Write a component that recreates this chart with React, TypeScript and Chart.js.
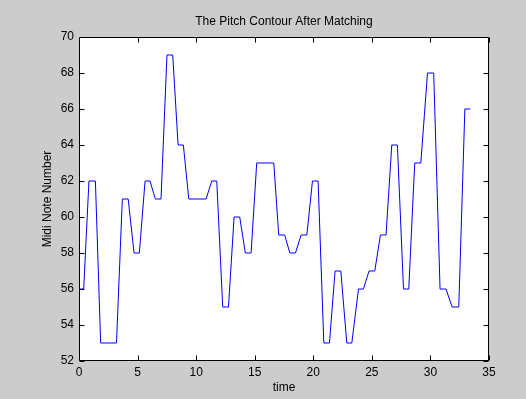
import React, { useEffect, useRef } from "react";
import { Chart, registerables } from "chart.js";

Chart.register(...registerables);

const titleText = "The Pitch Contour After Matching";
const xTitle = "time";
const yTitle = "Midi Note Number";

const timeValues = [0, 0.4, 0.85, 1.4, 1.85, 3.2, 3.7, 4.2, 4.7, 5.15, 5.64, 6.06, 6.52, 7.0, 7.51, 8.0, 8.46, 8.91, 9.37, 10.85, 11.33, 11.76, 12.27, 12.76, 13.24, 13.72, 14.2, 14.69, 15.17, 16.63, 17.05, 17.56, 18.0, 18.48, 18.96, 19.45, 19.93, 20.41, 20.9, 21.38, 21.86, 22.35, 22.86, 23.29, 23.86, 24.28, 24.76, 25.25, 25.73, 26.21, 26.7, 27.18, 27.7, 28.15, 28.66, 29.18, 29.75, 30.28, 30.82, 31.33, 31.85, 32.42, 32.94, 33.4];
const noteValues = [56, 56, 62, 62, 53, 53, 61, 61, 58, 58, 62, 62, 61, 61, 69, 69, 64, 64, 61, 61, 62, 62, 55, 55, 60, 60, 58, 58, 63, 63, 59, 59, 58, 58, 59, 59, 62, 62, 53, 53, 57, 57, 53, 53, 56, 56, 57, 57, 59, 59, 64, 64, 56, 56, 63, 63, 68, 68, 56, 56, 55, 55, 66, 66];

const xTicks = [0, 5, 10, 15, 20, 25, 30, 35];
const yTicks = [52, 54, 56, 58, 60, 62, 64, 66, 68, 70];

const FONT = "'Liberation Sans', Arial, sans-serif";

const boxPlugin = {
  id: "matlabBox",
  beforeDraw(chart: any) {
    const { ctx, chartArea } = chart;
    ctx.save();
    ctx.fillStyle = "#cccccc";
    ctx.fillRect(0, 0, chart.width, chart.height);
    ctx.fillStyle = "#ffffff";
    ctx.fillRect(chartArea.left, chartArea.top, chartArea.right - chartArea.left, chartArea.bottom - chartArea.top);
    ctx.restore();
  },
  afterDraw(chart: any) {
    const { ctx, chartArea } = chart;
    const xs = chart.scales.x;
    const ys = chart.scales.y;
    const L = Math.round(chartArea.left) + 0.5;
    const R = Math.round(chartArea.right) - 0.5;
    const T = Math.round(chartArea.top) + 0.5;
    const B = Math.round(chartArea.bottom) - 0.5;
    const tl = 5;
    ctx.save();
    ctx.strokeStyle = "#000000";
    ctx.lineWidth = 1;
    ctx.beginPath();
    ctx.rect(L, T, R - L, B - T);
    for (const v of xTicks) {
      const px = Math.round(xs.getPixelForValue(v)) + 0.5;
      ctx.moveTo(px, B);
      ctx.lineTo(px, B - tl);
      ctx.moveTo(px, T);
      ctx.lineTo(px, T + tl);
    }
    for (const v of yTicks) {
      const py = Math.round(ys.getPixelForValue(v)) + 0.5;
      ctx.moveTo(L, py);
      ctx.lineTo(L + tl, py);
      ctx.moveTo(R, py);
      ctx.lineTo(R - tl, py);
    }
    ctx.stroke();
    ctx.fillStyle = "#000000";
    ctx.font = `12px ${FONT}`;
    ctx.textAlign = "center";
    ctx.textBaseline = "middle";
    ctx.fillText(titleText, (chartArea.left + chartArea.right) / 2, 22);
    ctx.restore();
  },
};

export default function App() {
  const canvasRef = useRef<HTMLCanvasElement | null>(null);

  useEffect(() => {
    document.body.style.margin = "0";
    const canvas = canvasRef.current;
    if (!canvas) return;
    const chart = new Chart(canvas, {
      type: "scatter",
      data: {
        datasets: [
          {
            data: timeValues.map((t, i) => ({ x: t, y: noteValues[i] })),
            showLine: true,
            borderColor: "#0000ff",
            borderWidth: 1,
            pointRadius: 0,
            fill: false,
            tension: 0,
          },
        ],
      },
      options: {
        responsive: false,
        animation: false,
        devicePixelRatio: 1,
        layout: { padding: { left: 34, right: 37, top: 37, bottom: 0 } },
        plugins: {
          legend: { display: false },
          tooltip: { enabled: false },
          title: { display: false },
        },
        scales: {
          x: {
            type: "linear",
            min: 0,
            max: 35,
            afterBuildTicks: (s: any) => {
              s.ticks = xTicks.map((v) => ({ value: v }));
            },
            afterFit: (s: any) => {
              s.height = 38;
            },
            grid: { display: false, drawTicks: false },
            border: { display: false },
            ticks: {
              color: "#000000",
              font: { family: FONT, size: 12 },
              padding: 4,
              maxRotation: 0,
              autoSkip: false,
            },
            title: {
              display: true,
              text: xTitle,
              color: "#000000",
              font: { family: FONT, size: 12 },
              padding: { top: 0, bottom: 4 },
            },
          },
          y: {
            type: "linear",
            min: 52,
            max: 70,
            afterBuildTicks: (s: any) => {
              s.ticks = yTicks.map((v) => ({ value: v }));
            },
            afterFit: (s: any) => {
              s.width = 45;
            },
            grid: { display: false, drawTicks: false },
            border: { display: false },
            ticks: {
              color: "#000000",
              font: { family: FONT, size: 12 },
              padding: 5,
              autoSkip: false,
            },
            title: {
              display: true,
              text: yTitle,
              color: "#000000",
              font: { family: FONT, size: 12 },
              padding: { top: 6, bottom: 0 },
            },
          },
        },
      },
      plugins: [boxPlugin],
    } as any);
    return () => chart.destroy();
  }, []);

  return (
    <div style={{ width: 526, height: 399 }}>
      <canvas ref={canvasRef} width={526} height={399} style={{ display: "block" }} />
    </div>
  );
}
